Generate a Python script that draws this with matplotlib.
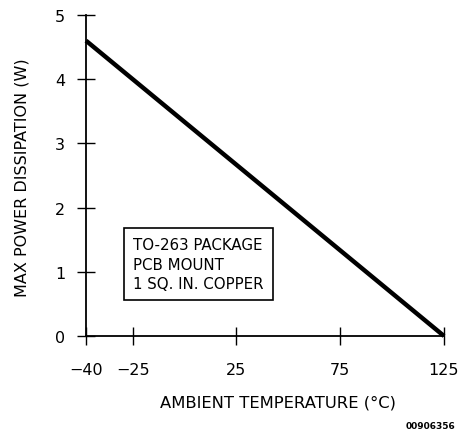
import numpy as np
import matplotlib
matplotlib.use("Agg")
import matplotlib.pyplot as plt

# derating curve: ambient temperature (C) vs max power dissipation (W)
temp = [-40, 125]
power = [4.6, 0]
xticks = [-40, -25, 25, 75, 125]
yticks = [0, 1, 2, 3, 4, 5]
note = "TO-263 PACKAGE\nPCB MOUNT\n1 SQ. IN. COPPER"

plt.rcParams['font.family'] = ['DejaVu Sans']

# the printed axis stretches the -40..-25 span, so use a piecewise scale
def fwd(x):
    x = np.asarray(x, dtype=float)
    return np.where(x >= -25, x, -25 + 1.5 * (x + 25))

def inv(u):
    u = np.asarray(u, dtype=float)
    return np.where(u >= -25, u, -25 + (u + 25) / 1.5)

fig = plt.figure(figsize=(4.62, 4.35), dpi=100)
ax = fig.add_axes([86/462, 1 - 337/435, (444 - 86)/462, (337 - 16)/435])
ax.set_xscale('function', functions=(fwd, inv))

ax.plot(temp, power, color='black', lw=3.2, solid_capstyle='butt', clip_on=False)

ax.set_xlim(-40, 125)
ax.set_ylim(0, 5)
ax.set_xticks(xticks)
ax.set_xticklabels([str(t).replace('-', '\u2212') for t in xticks])
ax.set_yticks(yticks)
ax.minorticks_off()

for s in ['top', 'right']:
    ax.spines[s].set_visible(False)
for s in ['left', 'bottom']:
    ax.spines[s].set_linewidth(1.3)

ax.tick_params(axis='both', direction='inout', length=13, width=1.0,
               labelsize=11.5)
ax.tick_params(axis='y', pad=8.5)
ax.tick_params(axis='x', pad=12)

fig.text(22/462, 1 - 178/435, "MAX POWER DISSIPATION (W)", fontsize=11.5,
         rotation=90, ha='center', va='center')
fig.text(278/462, 1 - 403/435, "AMBIENT TEMPERATURE (\u00b0C)", fontsize=11.8,
         ha='center', va='center')

ax.text(133/462, 1 - 265/435, note, transform=fig.transFigure,
        fontsize=10.8, ha='left', va='center', linespacing=1.35,
        bbox=dict(boxstyle='square,pad=0.6', fc='white', ec='black', lw=1.2))

fig.text(455/462, 1 - 427/435, "00906356", fontsize=6.5, fontweight='bold',
         ha='right', va='center')

fig.savefig("out.png", dpi=100)
